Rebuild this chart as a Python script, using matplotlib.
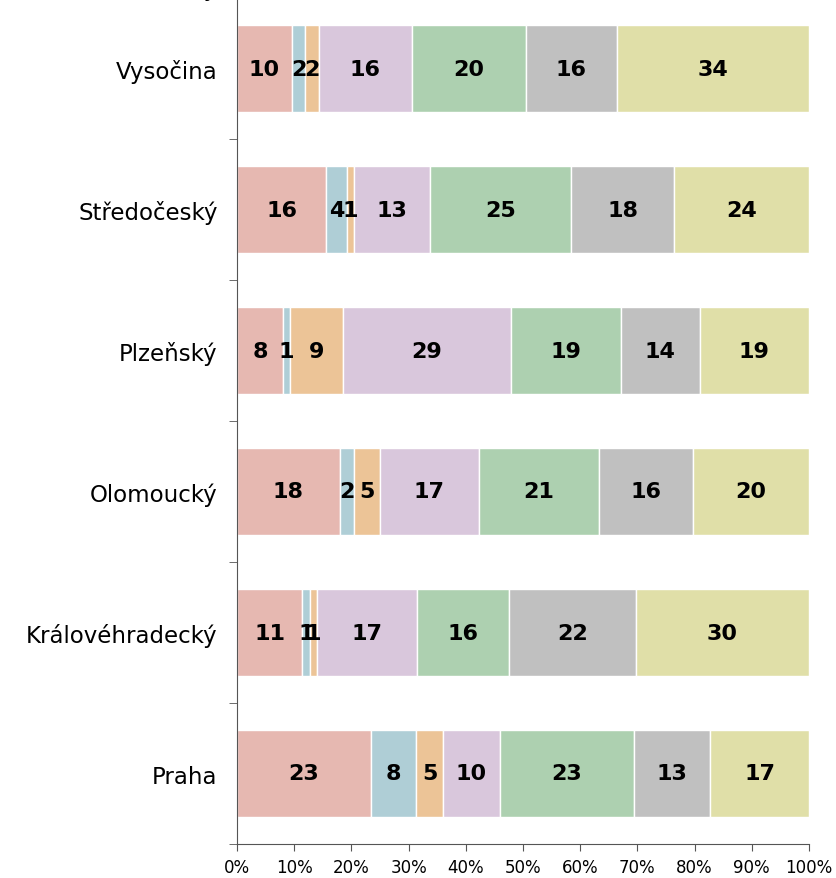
import numpy as np
import matplotlib.pyplot as plt

regions = ['Praha', 'Královéhradecký', 'Olomoucký', 'Plzeňský', 'Středočeský', 'Vysočina']

# shares (%) per region, one list per segment, left to right
seg1 = [23.4, 11.4, 18.0, 8.0, 15.6, 9.6]
seg2 = [7.9, 1.4, 2.4, 1.2, 3.6, 2.3]
seg3 = [4.7, 1.2, 4.6, 9.3, 1.3, 2.4]
seg4 = [10.0, 17.4, 17.3, 29.4, 13.3, 16.3]
seg5 = [23.4, 16.1, 21.0, 19.2, 24.6, 19.9]
seg6 = [13.3, 22.2, 16.4, 13.8, 18.0, 15.9]
seg7 = [17.3, 30.3, 20.3, 19.1, 23.6, 33.6]

series = [seg1, seg2, seg3, seg4, seg5, seg6, seg7]
colors = ['#E6B8B1', '#AFCED6', '#ECC497', '#D9C7DC', '#ADD0B0', '#C0C0C0', '#E0DFA8']

fig = plt.figure(figsize=(8.36, 8.79), dpi=100)
# axes runs past the top edge, like the cropped original
ax = fig.add_axes([237/836, 1 - 845/879, 572/836, 987/879])

y = np.arange(len(regions))
left = np.zeros(len(regions))
for vals, c in zip(series, colors):
    vals = np.array(vals)
    ax.barh(y, vals, left=left, height=0.61, color=c, edgecolor='white', linewidth=1)
    for yi, l, v in zip(y, left, vals):
        ax.text(l + v / 2, yi, '%.0f' % v, ha='center', va='center',
                fontsize=16, fontweight='bold', color='black')
    left += vals

ax.set_xlim(0, 100)
ax.set_ylim(-0.5, 6.5)
ax.set_xticks(np.arange(0, 101, 10))
ax.set_xticklabels(['%d%%' % t for t in range(0, 101, 10)], fontsize=12)
ax.set_yticks(y)
ax.set_yticklabels(regions, fontsize=16.5)
ax.set_yticks(np.arange(-0.5, 6.0, 1), minor=True)
ax.tick_params(axis='y', which='major', length=0, pad=14)
ax.tick_params(axis='y', which='minor', length=6, direction='out', color='#555555')
ax.tick_params(axis='x', length=5, direction='out', color='#555555', pad=5)
for s in ['top', 'right']:
    ax.spines[s].set_visible(False)
for s in ['left', 'bottom']:
    ax.spines[s].set_color('#555555')

# cropped text fragment at the top edge
fig.text(218/836, 1 + 4/879, 'Moravskoslezský', ha='right', va='baseline', fontsize=16.5)

fig.savefig('out.png', dpi=100)
